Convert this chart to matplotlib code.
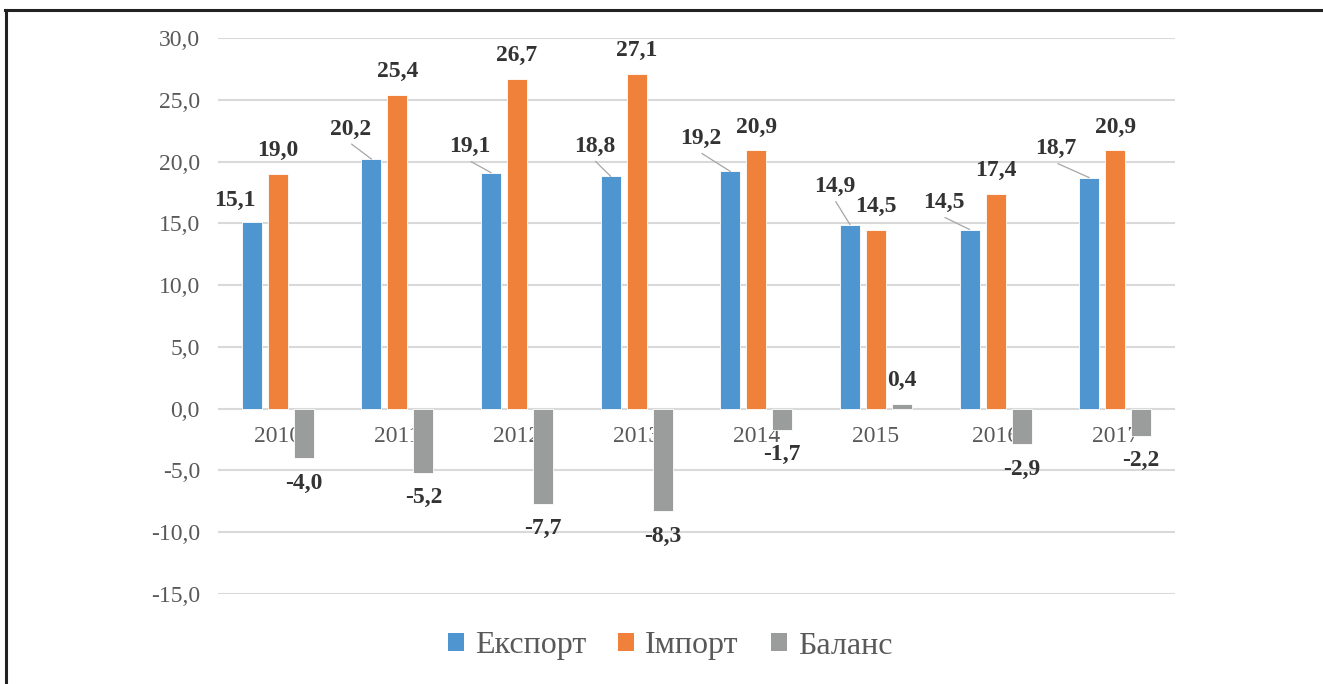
import matplotlib.pyplot as plt
import numpy as np
from matplotlib.lines import Line2D
from matplotlib.patches import Patch

years = ["2010", "2011", "2012", "2013", "2014", "2015", "2016", "2017"]
export = [15.1, 20.2, 19.1, 18.8, 19.2, 14.9, 14.5, 18.7]
imports = [19.0, 25.4, 26.7, 27.1, 20.9, 14.5, 17.4, 20.9]
balance = [-4.0, -5.2, -7.7, -8.3, -1.7, 0.4, -2.9, -2.2]
series_names = ["Експорт", "Імпорт", "Баланс"]
yticks = [-15, -10, -5, 0, 5, 10, 15, 20, 25, 30]

# label offsets for export values (pixels), as in the original layout
exp_offsets = [(-17, -22), (-21, -30), (-21, -26), (-16, -30),
               (-30, -33), (-15, -38), (-26, -27), (-33, -29)]
exp_leader = [False, True, True, True, True, True, True, True]

C_EXP = "#4F96D0"
C_IMP = "#F0813A"
C_BAL = "#9B9D9D"
TXT = "#595959"
LBL = "#333333"

plt.rcParams["font.family"] = ["Liberation Serif", "DejaVu Serif"]

fig = plt.figure(figsize=(13.23, 6.84), dpi=100)
ax = fig.add_axes([218 / 1323, 1 - 594 / 684, 957 / 1323, 556 / 684])

x = np.arange(len(years))
w = 0.167
step = 0.217
ax.bar(x - step, export, width=w, color=C_EXP, edgecolor="white", linewidth=0.6, zorder=3)
ax.bar(x, imports, width=w, color=C_IMP, edgecolor="white", linewidth=0.6, zorder=3)
ax.bar(x + step, balance, width=w, color=C_BAL, edgecolor="white", linewidth=0.6, zorder=3)

ax.set_xlim(-0.5, len(years) - 0.5)
ax.set_ylim(-15, 30)
ax.set_yticks(yticks)
ax.set_yticklabels([f"{v:.1f}".replace(".", ",") for v in yticks])
ax.tick_params(axis="y", length=0, pad=13, labelsize=17, labelcolor=TXT)
ax.set_xticks([])
ax.grid(axis="y", color="#D9D9D9", linewidth=1.5, zorder=0)
for s in ax.spines.values():
    s.set_visible(False)


def fmt(v):
    return f"{v:.1f}".replace(".", ",")


# year labels under the zero line (behind the bars)
for i, yr in enumerate(years):
    ax.annotate(yr, (i, 0), xytext=(0, -28), textcoords="offset pixels",
                ha="center", va="center", fontsize=17, color=TXT, zorder=1)

lab_kw = dict(textcoords="offset pixels", ha="center", va="center",
              fontsize=17, fontweight="bold", color=LBL, zorder=5)

for i, v in enumerate(export):
    dx, dy = exp_offsets[i]
    ax.annotate(fmt(v), (i - step, v), xytext=(dx, -dy), **lab_kw)
    if exp_leader[i]:
        # short leader line from label to bar top
        ax.annotate("", (i - step, v), xytext=(dx * 0.95, -dy - 15),
                    textcoords="offset pixels",
                    arrowprops=dict(arrowstyle="-", color="#A6A6A6", lw=0.9,
                                    shrinkA=0, shrinkB=0), zorder=4)

for i, v in enumerate(imports):
    ax.annotate(fmt(v), (i, v), xytext=(0, 23), **lab_kw)

for i, v in enumerate(balance):
    off = 23 if v >= 0 else -25
    ax.annotate(fmt(v), (i + step, v), xytext=(0, off), **lab_kw)

handles = [Patch(facecolor=c, edgecolor="none") for c in (C_EXP, C_IMP, C_BAL)]
leg = fig.legend(handles, series_names, loc="center", bbox_to_anchor=(670 / 1323, 1 - 646 / 684),
                 ncol=3, frameon=False, fontsize=23, handlelength=0.5, handleheight=0.5,
                 handletextpad=0.35, columnspacing=1.0, borderpad=0)
for t in leg.get_texts():
    t.set_color(TXT)

# outer frame (top and left edges visible in the crop)
fig.add_artist(Line2D([5 / 1323, 1.0], [1 - 10 / 684, 1 - 10 / 684], color="#222222", lw=2.2))
fig.add_artist(Line2D([6 / 1323, 6 / 1323], [0, 1 - 10 / 684], color="#222222", lw=2.2))

fig.savefig("out.png", dpi=100)
